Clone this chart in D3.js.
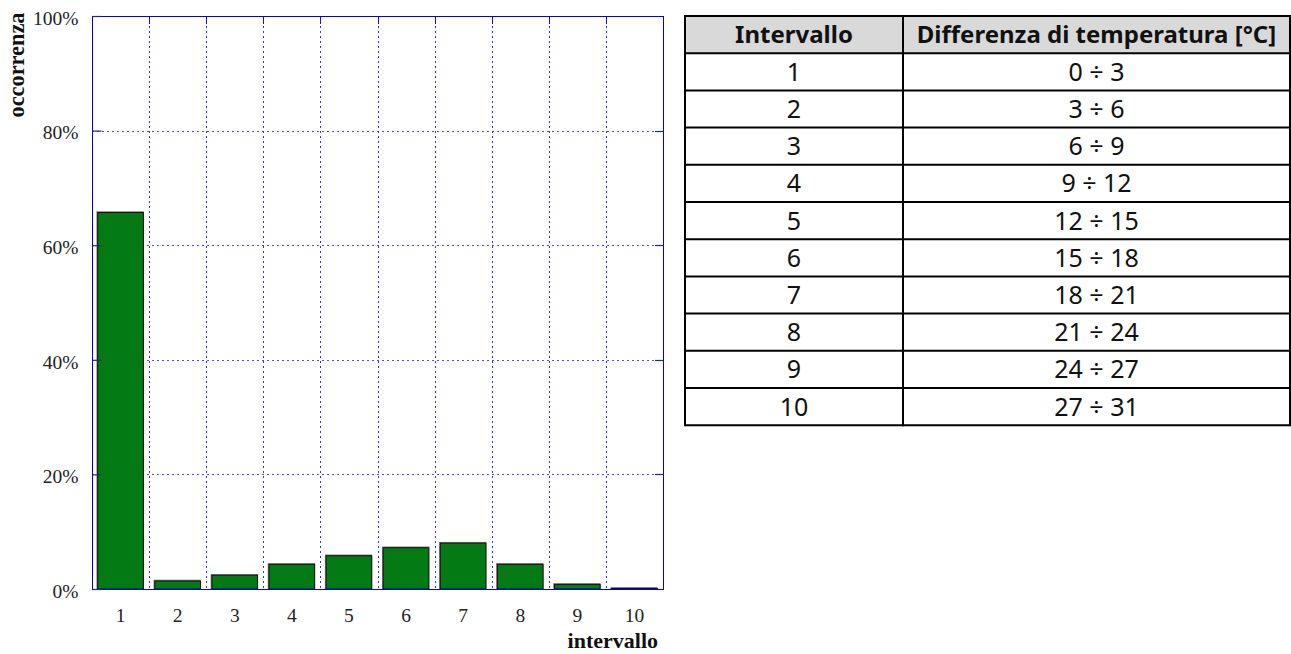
<!DOCTYPE html>
<html>
<head>
<meta charset="utf-8">
<script src="https://cdn.jsdelivr.net/npm/d3@7"></script>
<style>
  html, body { margin: 0; padding: 0; background: #fff; }
  svg { display: block; }
</style>
</head>
<body>
<svg id="chart" width="1291" height="654"></svg>
<script>
// Occurrence (%) per temperature-difference interval
const intervals = ["1", "2", "3", "4", "5", "6", "7", "8", "9", "10"];
const occurrence = [65.7, 1.4, 2.4, 4.3, 5.8, 7.2, 8.0, 4.3, 0.8, 0.1];
const yTicks = [0, 20, 40, 60, 80, 100];

// Lookup table: interval -> temperature range
const tableHeader = ["Intervallo", "Differenza di temperatura [°C]"];
const tableIntervals = ["1", "2", "3", "4", "5", "6", "7", "8", "9", "10"];
const tableRanges = ["0 ÷ 3", "3 ÷ 6", "6 ÷ 9", "9 ÷ 12", "12 ÷ 15", "15 ÷ 18", "18 ÷ 21", "21 ÷ 24", "24 ÷ 27", "27 ÷ 31"];

const svg = d3.select("#chart");
const serif = "'Liberation Serif', 'DejaVu Serif', serif";

// ---- bar chart ----
const plot = { left: 92, right: 663, top: 16, bottom: 589 };

const x = d3.scaleBand()
  .domain(intervals)
  .range([plot.left, plot.right])
  .paddingInner(0.2)
  .paddingOuter(0.1);

const y = d3.scaleLinear()
  .domain([0, 100])
  .range([plot.bottom, plot.top]);

const g = svg.append("g");

// band boundaries between categories (for vertical grid / border ticks)
const step = x.step();
const boundaries = intervals.slice(1).map(d => x(d) - x.paddingInner() * step / 2);

// grid
g.append("g").selectAll("line")
  .data(yTicks.filter(v => v > 0 && v < 100))
  .join("line")
  .attr("x1", plot.left).attr("x2", plot.right)
  .attr("y1", d => Math.round(y(d)) + 0.5).attr("y2", d => Math.round(y(d)) + 0.5)
  .attr("stroke", "#4a4aff").attr("stroke-width", 1)
  .attr("stroke-dasharray", "2,3");

g.append("g").selectAll("line")
  .data(boundaries)
  .join("line")
  .attr("x1", d => Math.round(d) + 0.5).attr("x2", d => Math.round(d) + 0.5)
  .attr("y1", plot.top).attr("y2", plot.bottom)
  .attr("stroke", "#2b2bff").attr("stroke-width", 1)
  .attr("stroke-dasharray", "2,3");

// inward ticks on the top border
g.append("g").selectAll("line")
  .data(boundaries)
  .join("line")
  .attr("x1", d => Math.round(d) + 0.5).attr("x2", d => Math.round(d) + 0.5)
  .attr("y1", plot.top).attr("y2", plot.top + 8)
  .attr("stroke", "#1010e0").attr("stroke-width", 1);

// bars: soft grey shadow behind a dark outline
const bars = g.append("g");
bars.selectAll("rect.shadow")
  .data(occurrence)
  .join("rect")
  .attr("class", "shadow")
  .attr("x", (d, i) => x(intervals[i]) - 0.5)
  .attr("y", d => y(d) - 0.5)
  .attr("width", x.bandwidth())
  .attr("height", d => plot.bottom - y(d))
  .attr("fill", "none")
  .attr("stroke", "#7a7a7a")
  .attr("stroke-width", 1.5);

bars.selectAll("rect.bar")
  .data(occurrence)
  .join("rect")
  .attr("class", "bar")
  .attr("x", (d, i) => x(intervals[i]))
  .attr("y", d => y(d))
  .attr("width", x.bandwidth())
  .attr("height", d => plot.bottom - y(d))
  .attr("fill", "#047a14")
  .attr("stroke", "#111")
  .attr("stroke-width", 1);

// frame
g.append("rect")
  .attr("x", plot.left + 0.5).attr("y", plot.top + 0.5)
  .attr("width", plot.right - plot.left).attr("height", plot.bottom - plot.top)
  .attr("fill", "none").attr("stroke", "#0000ee").attr("stroke-width", 1);

// y axis with inward ticks
const yAxis = d3.axisLeft(y)
  .tickValues(yTicks)
  .tickFormat(d => d + "%")
  .tickSize(-9)
  .tickPadding(14);

const ya = svg.append("g")
  .attr("transform", `translate(${plot.left + 0.5},0)`)
  .call(yAxis);
ya.select(".domain").remove();
ya.selectAll(".tick line").attr("stroke", "#1c2a7a").attr("stroke-width", 1.2);
ya.selectAll(".tick text")
  .attr("font-family", serif).attr("font-size", 19.5).attr("fill", "#222")
  .attr("dy", "0.42em");

// matching ticks on the right border
svg.append("g").selectAll("line")
  .data(yTicks.filter(v => v > 0 && v < 100))
  .join("line")
  .attr("x1", plot.right - 8).attr("x2", plot.right + 0.5)
  .attr("y1", d => Math.round(y(d)) + 0.5).attr("y2", d => Math.round(y(d)) + 0.5)
  .attr("stroke", "#1c2a7a").attr("stroke-width", 1.2);

// x axis labels
const xAxis = d3.axisBottom(x).tickSize(0).tickPadding(19);
const xa = svg.append("g")
  .attr("transform", `translate(0,${plot.bottom})`)
  .call(xAxis);
xa.select(".domain").remove();
xa.selectAll(".tick text")
  .attr("font-family", serif).attr("font-size", 19.5).attr("fill", "#222");

// axis titles
svg.append("text")
  .attr("x", 658).attr("y", 648)
  .attr("text-anchor", "end")
  .attr("font-family", serif).attr("font-weight", "bold").attr("font-size", 22)
  .attr("fill", "#111")
  .text("intervallo");

svg.append("text")
  .attr("transform", "translate(24,65) rotate(-90)")
  .attr("text-anchor", "middle")
  .attr("font-family", serif).attr("font-weight", "bold").attr("font-size", 23)
  .attr("textLength", 105).attr("lengthAdjust", "spacingAndGlyphs")
  .attr("fill", "#111")
  .text("occorrenza");

// ---- table ----
const tbl = { left: 685, right: 1290, top: 16, rowH: 37.2, split: 903 };
const cols = [
  { x0: tbl.left, x1: tbl.split },
  { x0: tbl.split, x1: tbl.right }
];
const rows = tableIntervals.map((d, i) => [d, tableRanges[i]]);
const nRows = rows.length + 1;
const rowY = d3.scaleLinear().domain([0, nRows]).range([tbl.top, tbl.top + nRows * tbl.rowH]);
const sans = "'Noto Sans', 'Open Sans', sans-serif";

const t = svg.append("g");

t.append("rect")
  .attr("x", tbl.left).attr("y", rowY(0))
  .attr("width", tbl.right - tbl.left).attr("height", rowY(1) - rowY(0))
  .attr("fill", "#d9d9d9");

t.selectAll("text.head")
  .data(tableHeader)
  .join("text")
  .attr("class", "head")
  .attr("x", (d, i) => (cols[i].x0 + cols[i].x1) / 2)
  .attr("y", rowY(0.5))
  .attr("dy", "0.36em")
  .attr("text-anchor", "middle")
  .attr("font-family", sans).attr("font-weight", "bold").attr("font-size", 24)
  .attr("fill", "#111")
  .text(d => d);

rows.forEach((r, ri) => {
  t.append("g").selectAll("text")
    .data(r)
    .join("text")
    .attr("x", (d, i) => (cols[i].x0 + cols[i].x1) / 2)
    .attr("y", rowY(ri + 1.5))
    .attr("dy", "0.36em")
    .attr("text-anchor", "middle")
    .attr("font-family", sans).attr("font-size", 25)
    .attr("fill", "#111")
    .text(d => d);
});

// horizontal rules
t.append("g").selectAll("line")
  .data(d3.range(nRows + 1))
  .join("line")
  .attr("x1", tbl.left).attr("x2", tbl.right)
  .attr("y1", d => rowY(d)).attr("y2", d => rowY(d))
  .attr("stroke", "#000").attr("stroke-width", 2);

// vertical rules
t.append("g").selectAll("line")
  .data([tbl.left, tbl.split, tbl.right])
  .join("line")
  .attr("x1", d => d).attr("x2", d => d)
  .attr("y1", rowY(0) - 1).attr("y2", rowY(nRows) + 1)
  .attr("stroke", "#000").attr("stroke-width", 2);
</script>
</body>
</html>
